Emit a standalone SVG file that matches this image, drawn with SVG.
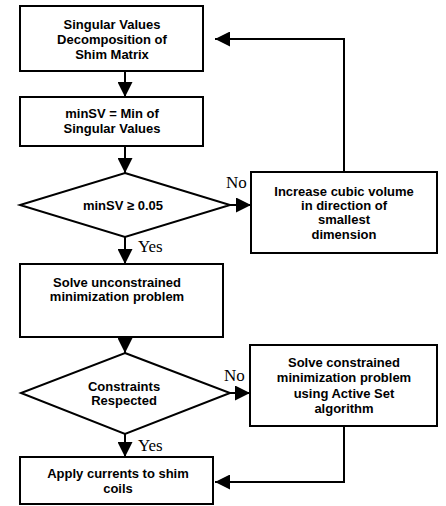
<svg xmlns="http://www.w3.org/2000/svg" width="446" height="506" viewBox="0 0 446 506">
<style>
.box{fill:#fff;stroke:#000;stroke-width:2}
.t{font-family:"Liberation Sans",Arial,sans-serif;font-weight:bold;font-size:13px;text-anchor:middle;fill:#000}
.l{font-family:"Liberation Serif","Times New Roman",serif;font-size:17px;fill:#000}
.c{fill:none;stroke:#000;stroke-width:2}
</style>
<defs>
<marker id="ah" viewBox="0 0 15 15" refX="15" refY="7.5" markerWidth="15" markerHeight="15" markerUnits="userSpaceOnUse" orient="auto">
<path d="M0,0 L15,7.5 L0,15 z" fill="#000"/>
</marker>
</defs>
<rect width="446" height="506" fill="#fff"/>
<g id="connectors">
<line class="c" x1="125" y1="71" x2="125" y2="97" marker-end="url(#ah)"/>
<line class="c" x1="125" y1="146" x2="125" y2="173" marker-end="url(#ah)"/>
<line class="c" x1="125" y1="237" x2="125" y2="264" marker-end="url(#ah)"/>
<line class="c" x1="125" y1="337" x2="125" y2="353" marker-end="url(#ah)"/>
<line class="c" x1="125" y1="434" x2="125" y2="457" marker-end="url(#ah)"/>
<line class="c" x1="230" y1="205" x2="251" y2="205" marker-end="url(#ah)"/>
<line class="c" x1="230" y1="393" x2="250" y2="393" marker-end="url(#ah)"/>
<polyline class="c" points="344,172 344,39 215,39" marker-end="url(#ah)"/>
<polyline class="c" points="344,426 344,482 215,482" marker-end="url(#ah)"/>
<text class="l" x="226" y="188">No</text>
<text class="l" x="138" y="252">Yes</text>
<text class="l" x="224" y="381">No</text>
<text class="l" x="138" y="451">Yes</text>
</g>
<g id="svd">
<rect class="box" x="20" y="6" width="183" height="65"/>
<text class="t" x="112" y="29">Singular Values</text>
<text class="t" x="112" y="44">Decomposition of</text>
<text class="t" x="112" y="59">Shim Matrix</text>
</g>
<g id="minsv">
<rect class="box" x="20" y="97" width="183" height="49"/>
<text class="t" x="112" y="118">minSV = Min of</text>
<text class="t" x="112" y="133">Singular Values</text>
</g>
<g id="check">
<polygon class="box" points="125,173 230,205 125,237 20,205"/>
<text class="t" x="123" y="210">minSV ≥ 0.05</text>
</g>
<g id="increase">
<rect class="box" x="251" y="172" width="186" height="81"/>
<text class="t" x="344" y="196">Increase cubic volume</text>
<text class="t" x="344" y="210">in direction of</text>
<text class="t" x="344" y="224">smallest</text>
<text class="t" x="344" y="239">dimension</text>
</g>
<g id="unconstrained">
<rect class="box" x="20" y="264" width="203" height="73"/>
<text class="t" x="117" y="287">Solve unconstrained</text>
<text class="t" x="117" y="301">minimization problem</text>
</g>
<g id="constraints">
<polygon class="box" points="125,353 230,393 125,434 21,393"/>
<text class="t" x="124" y="391">Constraints</text>
<text class="t" x="124" y="405">Respected</text>
</g>
<g id="constrained">
<rect class="box" x="250" y="345" width="187" height="81"/>
<text class="t" x="344" y="367">Solve constrained</text>
<text class="t" x="344" y="382">minimization problem</text>
<text class="t" x="344" y="398">using Active Set</text>
<text class="t" x="344" y="413">algorithm</text>
</g>
<g id="apply">
<rect class="box" x="20" y="457" width="193" height="47"/>
<text class="t" x="118" y="478">Apply currents to shim</text>
<text class="t" x="118" y="493">coils</text>
</g>
</svg>
